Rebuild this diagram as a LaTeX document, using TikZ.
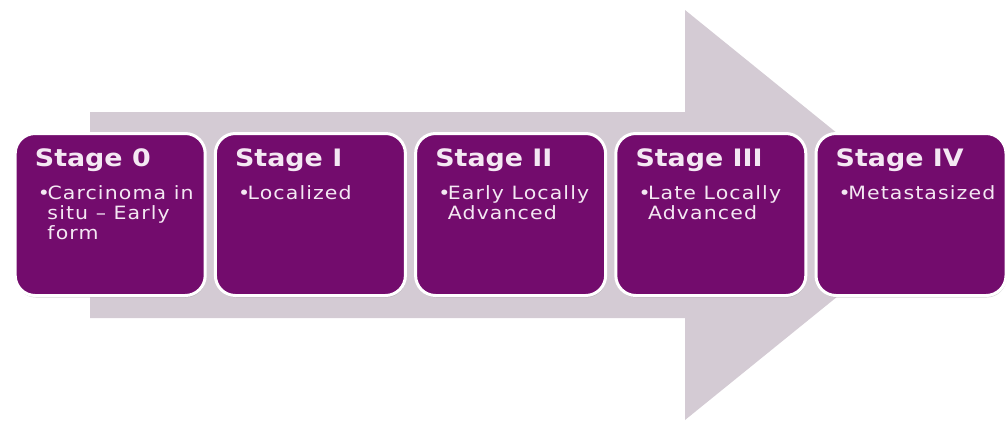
\documentclass[tikz,border=0pt]{standalone}
\usepackage{fontspec}
\setmainfont{DejaVu Sans}
\newfontfamily\ttlfont[FakeStretch=1.12]{DejaVu Sans Bold}
\newfontfamily\bodyfont[FakeStretch=1.12,LetterSpace=6]{DejaVu Sans}
\usetikzlibrary{shadows}
\definecolor{boxpurple}{HTML}{730C6D}
\definecolor{arrowgray}{HTML}{D4CBD4}
\definecolor{txtcol}{HTML}{F4E8F3}
\tikzset{
  stagebox/.style={rectangle, rounded corners=20pt, draw=white, line width=3pt,
    fill=boxpurple, minimum width=190pt, minimum height=162pt, inner sep=0pt,
    drop shadow={shadow xshift=0.6pt, shadow yshift=-2pt, opacity=0.35}},
  stagetitle/.style={anchor=base west, inner sep=0pt, text=txtcol,
    font=\ttlfont\fontsize{24}{27}\selectfont},
  stagebody/.style={anchor=base west, inner sep=0pt, text=txtcol,
    font=\bodyfont\fontsize{18.3}{20}\selectfont}
}
\newcommand{\bul}{•\kern-2.5pt}
\newcommand{\ind}{\phantom{•}\kern-2.5pt}
\newcommand{\bodytext}[1]{\parbox[t]{180pt}{\baselineskip=20pt #1}}
\begin{document}
\begin{tikzpicture}[x=1pt,y=-1pt]
\useasboundingbox (0,0) rectangle (1008,421);
\fill[arrowgray] (90,112) -- (685,112) -- (685,10) -- (938,215) -- (685,420)
  -- (685,318) -- (90,318) -- cycle;
\foreach \i in {0,...,4}{
  \node[stagebox] (b\i) at ({110.2+200.2*\i},214.5) {};
}
\node[stagetitle] (t0) at ([shift={(-75.5,-47.8)}]b0.center) {Stage 0};
\node[stagetitle] (t1) at ([shift={(-75.5,-47.8)}]b1.center) {Stage I};
\node[stagetitle] (t2) at ([shift={(-75.5,-47.8)}]b2.center) {Stage II};
\node[stagetitle] (t3) at ([shift={(-75.5,-47.8)}]b3.center) {Stage III};
\node[stagetitle] (t4) at ([shift={(-75.5,-47.8)}]b4.center) {Stage IV};
\node[stagebody] (d0) at ([shift={(-72.5,-15)}]b0.center)
  {\bodytext{\bul Carcinoma in\\\ind situ – Early\\\ind form}};
\node[stagebody] (d1) at ([shift={(-72.5,-15)}]b1.center)
  {\bodytext{\bul Localized}};
\node[stagebody] (d2) at ([shift={(-72.5,-15)}]b2.center)
  {\bodytext{\bul Early Locally\\\ind Advanced}};
\node[stagebody] (d3) at ([shift={(-72.5,-15)}]b3.center)
  {\bodytext{\bul Late Locally\\\ind Advanced}};
\node[stagebody] (d4) at ([shift={(-72.5,-15)}]b4.center)
  {\bodytext{\bul Metastasized}};
\end{tikzpicture}
\end{document}
